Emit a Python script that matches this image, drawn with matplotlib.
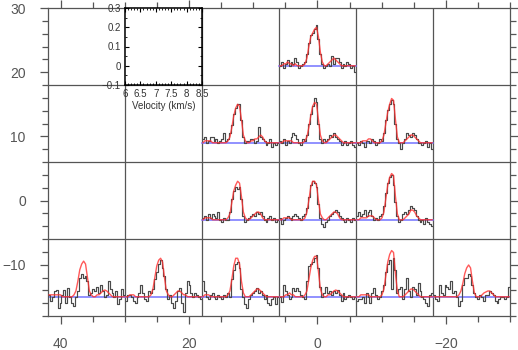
import numpy as np
import matplotlib
matplotlib.use('Agg')
import matplotlib.pyplot as plt
from matplotlib.ticker import MultipleLocator

plt.rcParams['font.family'] = ['Liberation Sans', 'DejaVu Sans']

# velocity channels (km/s), 40 channels across 6 - 8.5
velocity = np.linspace(6.03125, 8.46875, 40)

# grid cell centre (x offset) and baseline (y offset) of each spectrum
cell_x = [0, 12, 0, -12, 12, 0, -12, 36, 24, 12, 0, -12, -24]
cell_y = [21, 9, 9, 9, -3, -3, -3, -15, -15, -15, -15, -15, -15]

obs_A = [0.00, 0.02, -0.01, 0.01, 0.03, 0.00, 0.02, 0.01, 0.04, 0.02, -0.01, 0.00, 0.01, 0.02, 0.06, 0.12, 0.16, 0.17, 0.19, 0.21,
         0.14, 0.06, 0.01, -0.01, 0.00, 0.01, 0.00, 0.05, 0.01, 0.04, 0.04, 0.02, -0.01, 0.01, 0.00, 0.02, 0.01, -0.01, 0.00, -0.03]
fit_A = [0.00, 0.00, 0.01, 0.01, 0.02, 0.01, 0.01, 0.00, 0.01, 0.00, 0.00, 0.00, 0.00, 0.01, 0.04, 0.10, 0.15, 0.17, 0.19, 0.20,
         0.15, 0.07, 0.02, 0.00, 0.00, 0.01, 0.02, 0.03, 0.04, 0.03, 0.02, 0.01, 0.00, 0.00, 0.00, 0.00, 0.00, 0.00, 0.00, 0.00]

obs_B = [0.02, 0.03, 0.00, 0.01, 0.03, 0.03, 0.01, 0.02, 0.00, 0.01, 0.02, 0.05, 0.01, 0.02, 0.05, 0.09, 0.15, 0.18, 0.20, 0.20,
         0.12, 0.03, 0.00, 0.01, 0.01, 0.02, 0.02, 0.00, 0.01, 0.08, 0.03, 0.02, 0.01, -0.01, 0.00, 0.02, -0.02, 0.00, -0.01, 0.00]
fit_B = [0.00, 0.01, 0.01, 0.01, 0.01, 0.00, 0.00, 0.00, 0.00, 0.00, 0.00, 0.00, 0.00, 0.01, 0.03, 0.08, 0.14, 0.18, 0.20, 0.19,
         0.12, 0.04, 0.01, 0.00, 0.00, 0.01, 0.01, 0.02, 0.02, 0.03, 0.04, 0.03, 0.01, 0.00, 0.00, 0.00, 0.00, 0.00, 0.00, 0.00]

obs_C = [0.01, 0.00, 0.02, -0.01, 0.01, 0.00, 0.03, 0.05, 0.04, 0.02, 0.00, -0.01, 0.02, 0.01, 0.04, 0.10, 0.15, 0.19, 0.23, 0.21,
         0.10, 0.02, 0.00, 0.02, 0.01, 0.02, 0.04, 0.03, 0.05, 0.03, 0.02, 0.01, -0.01, 0.00, 0.01, -0.01, 0.00, 0.01, -0.01, -0.02]
fit_C = [0.00, 0.00, 0.01, 0.01, 0.01, 0.01, 0.01, 0.00, 0.00, 0.00, 0.00, 0.00, 0.00, 0.01, 0.03, 0.08, 0.14, 0.19, 0.21, 0.20,
         0.12, 0.04, 0.01, 0.00, 0.00, 0.01, 0.02, 0.03, 0.04, 0.04, 0.03, 0.02, 0.01, 0.00, 0.00, 0.00, 0.00, 0.00, 0.00, 0.00]

obs_D = [0.00, -0.01, 0.01, 0.00, -0.02, 0.01, 0.01, 0.00, 0.02, 0.01, -0.01, 0.00, 0.02, 0.01, 0.05, 0.12, 0.17, 0.20, 0.22, 0.20,
         0.10, 0.02, 0.00, -0.03, 0.00, 0.02, 0.05, 0.04, 0.03, 0.05, 0.04, 0.02, 0.00, 0.00, -0.01, 0.00, 0.01, -0.02, 0.00, -0.03]
fit_D = [0.00, 0.00, 0.00, 0.01, 0.01, 0.01, 0.02, 0.02, 0.01, 0.00, 0.00, 0.00, 0.00, 0.01, 0.04, 0.10, 0.16, 0.20, 0.23, 0.22,
         0.12, 0.03, 0.00, 0.00, 0.00, 0.01, 0.02, 0.03, 0.04, 0.04, 0.03, 0.02, 0.01, 0.00, 0.00, 0.00, 0.00, 0.00, 0.00, 0.00]

obs_E = [0.01, 0.02, 0.00, 0.03, 0.01, 0.03, 0.02, 0.01, 0.04, 0.00, -0.01, 0.01, 0.00, 0.00, 0.04, 0.11, 0.15, 0.17, 0.16, 0.17,
         0.11, 0.02, -0.01, 0.00, 0.01, 0.02, 0.03, 0.02, 0.04, 0.03, 0.04, 0.02, 0.00, -0.01, 0.01, 0.02, 0.00, 0.01, -0.01, 0.00]
fit_E = [0.00, 0.01, 0.01, 0.01, 0.01, 0.00, 0.00, 0.00, 0.00, 0.00, 0.00, 0.00, 0.00, 0.01, 0.03, 0.09, 0.15, 0.18, 0.20, 0.19,
         0.12, 0.04, 0.01, 0.00, 0.00, 0.01, 0.02, 0.03, 0.04, 0.04, 0.03, 0.01, 0.00, 0.00, 0.00, 0.00, 0.00, 0.00, 0.00, 0.00]

obs_F = [0.01, -0.02, 0.00, 0.01, 0.02, 0.01, 0.00, 0.02, 0.03, 0.02, 0.01, 0.00, 0.02, 0.03, 0.06, 0.12, 0.18, 0.20, 0.19, 0.17,
         0.08, 0.01, -0.02, -0.04, -0.01, 0.00, 0.02, 0.03, 0.04, 0.05, 0.04, 0.02, 0.01, 0.00, -0.01, 0.01, 0.00, -0.01, 0.01, 0.00]
fit_F = [0.00, 0.00, 0.01, 0.01, 0.01, 0.01, 0.00, 0.00, 0.00, 0.00, 0.00, 0.00, 0.00, 0.01, 0.04, 0.10, 0.17, 0.20, 0.20, 0.18,
         0.10, 0.03, 0.01, 0.00, 0.00, 0.01, 0.02, 0.03, 0.04, 0.04, 0.03, 0.01, 0.00, 0.00, 0.00, 0.00, 0.00, 0.00, 0.00, 0.00]

obs_G = [0.02, 0.04, 0.02, 0.03, 0.05, 0.02, 0.04, 0.05, 0.02, 0.00, 0.01, 0.00, 0.02, 0.03, 0.07, 0.14, 0.19, 0.22, 0.23, 0.18,
         0.09, 0.02, -0.01, 0.00, 0.03, 0.04, 0.03, 0.05, 0.07, 0.06, 0.05, 0.02, 0.00, -0.01, 0.00, -0.02, 0.01, -0.01, -0.02, -0.03]
fit_G = [0.00, 0.00, 0.01, 0.01, 0.01, 0.01, 0.02, 0.02, 0.02, 0.01, 0.00, 0.00, 0.00, 0.01, 0.04, 0.11, 0.18, 0.22, 0.24, 0.23,
         0.12, 0.03, 0.00, 0.00, 0.00, 0.01, 0.02, 0.03, 0.05, 0.05, 0.04, 0.02, 0.01, 0.00, 0.00, 0.00, 0.00, 0.00, 0.00, 0.00]

obs_H = [0.01, -0.02, 0.00, 0.03, 0.035, -0.06, -0.03, 0.01, 0.035, -0.03, 0.045, 0.00, -0.03, -0.05, 0.00, 0.03, 0.095, 0.12, 0.10, 0.11,
         0.08, 0.01, 0.02, 0.04, 0.03, 0.05, 0.02, 0.06, 0.03, 0.00, 0.01, 0.08, 0.04, 0.02, 0.00, 0.03, -0.04, -0.01, 0.04, 0.01]
fit_H = [0.01, 0.01, 0.01, 0.01, 0.01, 0.01, 0.01, 0.00, 0.00, 0.00, 0.00, 0.00, 0.00, 0.01, 0.03, 0.08, 0.14, 0.17, 0.185, 0.17,
         0.10, 0.03, 0.01, 0.00, 0.00, 0.01, 0.01, 0.02, 0.03, 0.035, 0.03, 0.02, 0.01, 0.00, 0.00, 0.00, 0.00, 0.00, 0.00, 0.00]

obs_I = [-0.02, 0.01, 0.01, 0.00, -0.02, -0.035, 0.00, 0.02, 0.06, 0.02, -0.01, -0.02, 0.03, 0.02, 0.04, 0.09, 0.13, 0.17, 0.19, 0.15,
         0.11, 0.04, -0.01, 0.01, -0.03, -0.06, -0.02, 0.03, 0.045, -0.03, -0.08, 0.02, 0.08, 0.06, 0.02, 0.00, 0.02, 0.01, 0.00, -0.01]
fit_I = [0.00, 0.00, 0.01, 0.01, 0.01, 0.00, 0.00, 0.00, 0.00, 0.00, 0.00, 0.00, 0.00, 0.01, 0.04, 0.10, 0.16, 0.19, 0.20, 0.18,
         0.10, 0.03, 0.01, 0.00, 0.00, 0.01, 0.02, 0.03, 0.03, 0.02, 0.01, 0.01, 0.00, 0.00, 0.00, 0.00, 0.00, 0.00, 0.00, 0.00]

obs_J = [0.08, 0.03, 0.00, -0.01, 0.01, 0.02, 0.00, -0.01, 0.01, 0.00, -0.01, 0.01, 0.00, 0.02, 0.00, 0.09, 0.14, 0.17, 0.18, 0.15,
         0.04, 0.00, -0.04, -0.06, -0.01, 0.01, 0.02, 0.03, 0.045, 0.02, 0.03, 0.01, -0.01, 0.01, -0.03, -0.045, -0.01, 0.00, -0.04, 0.00]
fit_J = [0.00, 0.01, 0.01, 0.01, 0.00, 0.00, 0.00, 0.00, 0.00, 0.00, 0.00, 0.00, 0.00, 0.01, 0.03, 0.09, 0.16, 0.20, 0.20, 0.17,
         0.08, 0.02, 0.00, 0.00, 0.00, 0.01, 0.02, 0.03, 0.04, 0.04, 0.03, 0.02, 0.01, 0.00, 0.00, 0.00, 0.00, 0.00, 0.00, 0.00]

obs_K = [0.00, -0.025, 0.06, 0.03, 0.01, -0.01, 0.00, 0.045, 0.03, 0.045, 0.03, 0.01, 0.00, -0.01, 0.08, 0.16, 0.17, 0.18, 0.20, 0.215,
         0.15, 0.05, 0.00, 0.02, 0.05, 0.02, 0.03, 0.01, 0.03, 0.02, 0.035, 0.01, -0.02, 0.02, -0.01, 0.00, 0.01, 0.00, -0.01, 0.00]
fit_K = [0.00, 0.00, 0.00, 0.01, 0.01, 0.02, 0.01, 0.01, 0.00, 0.00, 0.00, 0.00, 0.00, 0.01, 0.03, 0.09, 0.15, 0.19, 0.21, 0.21,
         0.13, 0.04, 0.01, 0.00, 0.00, 0.01, 0.01, 0.02, 0.03, 0.035, 0.03, 0.02, 0.01, 0.00, 0.00, 0.00, 0.00, 0.00, 0.00, 0.00]

obs_L = [-0.02, -0.01, -0.01, 0.00, -0.03, 0.02, 0.00, -0.035, 0.02, 0.045, 0.01, -0.01, 0.00, 0.03, 0.06, 0.13, 0.17, 0.19, 0.04, 0.20,
         0.14, 0.02, 0.04, 0.05, -0.01, 0.04, 0.095, 0.03, 0.00, 0.05, 0.04, 0.01, 0.07, 0.03, 0.00, -0.01, -0.03, -0.05, 0.01, 0.02]
fit_L = [0.00, 0.00, 0.01, 0.01, 0.01, 0.01, 0.01, 0.00, 0.00, 0.00, 0.00, 0.00, 0.00, 0.01, 0.04, 0.11, 0.18, 0.22, 0.24, 0.23,
         0.12, 0.03, 0.00, 0.00, 0.00, 0.01, 0.02, 0.03, 0.04, 0.04, 0.03, 0.02, 0.01, 0.00, 0.00, 0.00, 0.00, 0.00, 0.00, 0.00]

obs_M = [0.01, -0.01, -0.02, 0.06, 0.02, 0.01, 0.06, 0.05, 0.04, 0.08, 0.02, 0.03, 0.00, -0.05, -0.02, 0.06, 0.10, 0.10, 0.12, 0.11,
         0.06, 0.02, 0.00, -0.01, 0.01, 0.00, -0.02, 0.01, 0.01, 0.03, 0.02, 0.01, -0.02, -0.035, -0.01, 0.00, 0.00, -0.01, 0.00, 0.05]
fit_M = [0.00, 0.00, 0.00, 0.00, 0.00, 0.00, 0.00, 0.00, 0.00, 0.00, 0.00, 0.00, 0.00, 0.01, 0.03, 0.07, 0.12, 0.15, 0.165, 0.15,
         0.08, 0.02, 0.00, 0.00, 0.00, 0.01, 0.02, 0.025, 0.03, 0.03, 0.02, 0.01, 0.00, 0.00, 0.00, 0.00, 0.00, 0.00, 0.00, 0.00]

observed = [obs_A, obs_B, obs_C, obs_D, obs_E, obs_F, obs_G, obs_H, obs_I, obs_J, obs_K, obs_L, obs_M]
fitted = [fit_A, fit_B, fit_C, fit_D, fit_E, fit_F, fit_G, fit_H, fit_I, fit_J, fit_K, fit_L, fit_M]

v_min, v_max = 6.0, 8.5
t_min, t_max = -0.1, 0.3
cell = 12.0

fig = plt.figure(figsize=(5.18, 3.5), dpi=100)
ax = fig.add_axes([48 / 518, 34 / 350, 462 / 518, 308 / 350])
ax.set_xlim(42, -30)
ax.set_ylim(-18, 30)

gray = '#555555'
for x in [30, 18, 6, -6, -18]:
    ax.axvline(x, color=gray, lw=0.9, zorder=1)
for y in [18, 6, -6]:
    ax.axhline(y, color=gray, lw=0.9, zorder=1)

# map velocity / intensity into the offset coordinates of each cell
scale_x = cell / (v_max - v_min)
scale_y = cell / (t_max - t_min)
for cx, cy, obs, fit in zip(cell_x, cell_y, observed, fitted):
    xs = cx + cell / 2 - (velocity - v_min) * scale_x
    ax.plot([cx + cell / 2, cx - cell / 2], [cy, cy], color='#7373ff', lw=1.1, zorder=2)
    ax.plot(xs, cy + np.array(obs) * scale_y, color='#4a4a4a', lw=0.85, drawstyle='steps-mid', zorder=3)
    ax.plot(xs, cy + np.array(fit) * scale_y, color='#ff3030', lw=1.0, alpha=0.8, zorder=4)

for sp in ax.spines.values():
    sp.set_color(gray)
    sp.set_linewidth(0.9)
ax.xaxis.set_major_locator(MultipleLocator(20))
ax.xaxis.set_minor_locator(MultipleLocator(5))
ax.yaxis.set_major_locator(MultipleLocator(10))
ax.yaxis.set_minor_locator(MultipleLocator(2))
ax.tick_params(which='both', direction='out', color=gray, top=True, right=True,
               labelcolor=gray, labelsize=10)
ax.tick_params(which='major', length=6, width=0.9)
ax.tick_params(which='minor', length=4, width=0.9)
ax.tick_params(axis='x', pad=9)
ax.tick_params(axis='y', pad=10)

# velocity scale box in the empty cell
ins = ax.inset_axes([12 / 72, 36 / 48, 12 / 72, 12 / 48])
ins.set_xlim(v_min, v_max)
ins.set_ylim(t_min, t_max)
ins.xaxis.set_minor_locator(MultipleLocator(0.1))
ins.yaxis.set_minor_locator(MultipleLocator(0.05))
ins.set_xticks([6, 6.5, 7, 7.5, 8, 8.5])
ins.set_xticklabels(['6', '6.5', '7', '7.5', '8', '8.5'])
ins.set_yticks([-0.1, 0, 0.1, 0.2, 0.3])
ins.set_yticklabels(['\u22120.1', '0', '0.1', '0.2', '0.3'])
ins.tick_params(which='both', direction='in', top=True, right=True, labelsize=7,
                labelcolor='#333333', pad=3)
ins.tick_params(which='major', length=3)
ins.tick_params(which='minor', length=1.5)
ins.set_xlabel('Velocity (km/s)', fontsize=7, color='#333333', labelpad=1)
for sp in ins.spines.values():
    sp.set_linewidth(1.1)
ins.patch.set_facecolor('white')

fig.savefig('out.png', dpi=100)
